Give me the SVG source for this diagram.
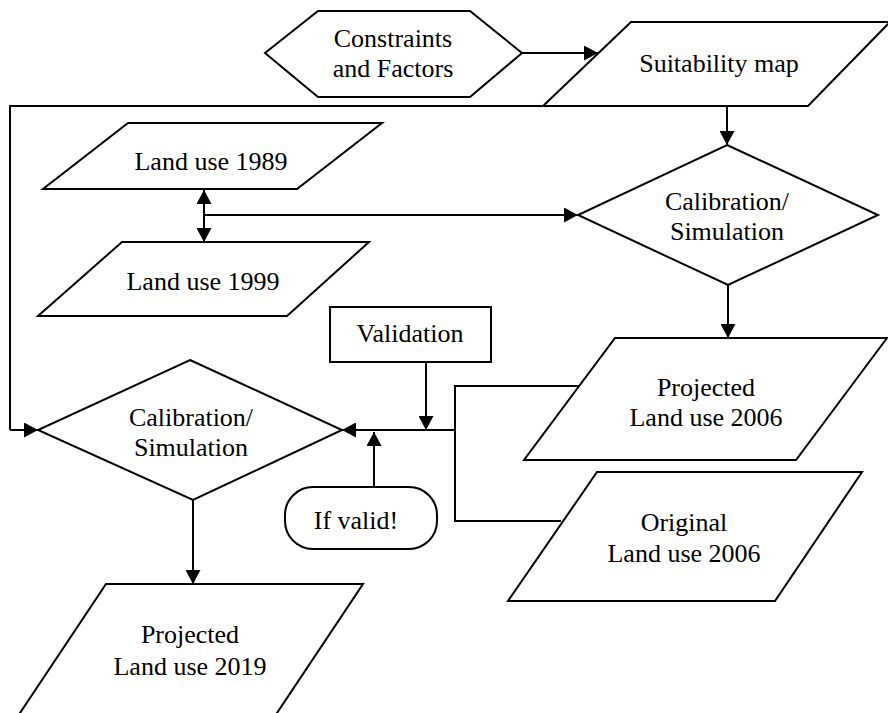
<svg xmlns="http://www.w3.org/2000/svg" width="888" height="713" viewBox="0 0 888 713">
<style>
.s{fill:#fff;stroke:#000;stroke-width:2;stroke-linejoin:miter}
.c{fill:none;stroke:#000;stroke-width:2}
.a{marker-end:url(#ah)}
</style>
<defs>
<marker id="ah" markerUnits="userSpaceOnUse" markerWidth="14" markerHeight="15" refX="14" refY="7.5" orient="auto-start-reverse">
<path d="M0,0 L14,7.5 L0,15 Z" fill="#000"/>
</marker>
</defs>
<rect width="888" height="713" fill="#fff"/>
<g id="connectors">
<path class="c a" d="M522,53 L598,53"/>
<path class="c a" d="M727,106 L727,145"/>
<path class="c" d="M543,106 L10,106 L10,430"/>
<path class="c a" d="M10,430 L38,430"/>
<path class="c a" d="M204,190 L204,242" marker-start="url(#ah)"/>
<path class="c a" d="M204,215 L578,215"/>
<path class="c a" d="M728,285 L728,338"/>
<path class="c" d="M579,386 L455,386 L455,521 L561,521"/>
<path class="c a" d="M455,430 L342,430"/>
<path class="c a" d="M426,362 L426,430"/>
<path class="c a" d="M374,487 L374,432"/>
<path class="c a" d="M193,500 L193,584"/>
</g>
<g font-family="Liberation Serif" font-size="26" text-anchor="middle" fill="#000">
<g id="constraints">
<polygon class="s" points="265,53 318,11 470,11 522,53 470,97 318,97"/>
<text x="393" y="47" font-family="Liberation Serif" style="font-family:'Liberation Serif',serif">Constraints</text>
<text x="393" y="77" font-family="Liberation Serif" style="font-family:'Liberation Serif',serif">and Factors</text>
</g>
<g id="suitability">
<polygon class="s" points="631,22 890,22 808,106 543,106"/>
<text x="719" y="72" font-family="Liberation Serif" style="font-family:'Liberation Serif',serif">Suitability map</text>
</g>
<g id="lu1989">
<polygon class="s" points="128,123 382,123 297,189 43,189"/>
<text x="211" y="170" font-family="Liberation Serif" style="font-family:'Liberation Serif',serif">Land use 1989</text>
</g>
<g id="lu1999">
<polygon class="s" points="122,242 369,242 287,316 38,316"/>
<text x="203" y="290" font-family="Liberation Serif" style="font-family:'Liberation Serif',serif">Land use 1999</text>
</g>
<g id="calib1">
<polygon class="s" points="727,145 878,215 728,285 578,215"/>
<text x="727" y="210" font-family="Liberation Serif" style="font-family:'Liberation Serif',serif">Calibration/</text>
<text x="727" y="240" font-family="Liberation Serif" style="font-family:'Liberation Serif',serif">Simulation</text>
</g>
<g id="validation">
<rect class="s" x="330" y="307" width="161" height="55"/>
<text x="410" y="342" font-family="Liberation Serif" style="font-family:'Liberation Serif',serif">Validation</text>
</g>
<g id="proj2006">
<polygon class="s" points="615,338 887,338 796,460 524,460"/>
<text x="706" y="396" font-family="Liberation Serif" style="font-family:'Liberation Serif',serif">Projected</text>
<text x="706" y="426" font-family="Liberation Serif" style="font-family:'Liberation Serif',serif">Land use 2006</text>
</g>
<g id="orig2006">
<polygon class="s" points="597,472 862,472 775,601 508,601"/>
<text x="684" y="531" font-family="Liberation Serif" style="font-family:'Liberation Serif',serif">Original</text>
<text x="684" y="562" font-family="Liberation Serif" style="font-family:'Liberation Serif',serif">Land use 2006</text>
</g>
<g id="calib2">
<polygon class="s" points="190,360 342,430 193,500 38,430"/>
<text x="191" y="426" font-family="Liberation Serif" style="font-family:'Liberation Serif',serif">Calibration/</text>
<text x="191" y="456" font-family="Liberation Serif" style="font-family:'Liberation Serif',serif">Simulation</text>
</g>
<g id="ifvalid">
<rect class="s" x="285" y="487" width="152" height="62" rx="28" ry="28"/>
<text x="356" y="529" font-family="Liberation Serif" style="font-family:'Liberation Serif',serif">If valid!</text>
</g>
<g id="proj2019">
<polygon class="s" points="106,584 363,584 275,716 18,716"/>
<text x="190" y="643" font-family="Liberation Serif" style="font-family:'Liberation Serif',serif">Projected</text>
<text x="190" y="675" font-family="Liberation Serif" style="font-family:'Liberation Serif',serif">Land use 2019</text>
</g>
</g>
</svg>
